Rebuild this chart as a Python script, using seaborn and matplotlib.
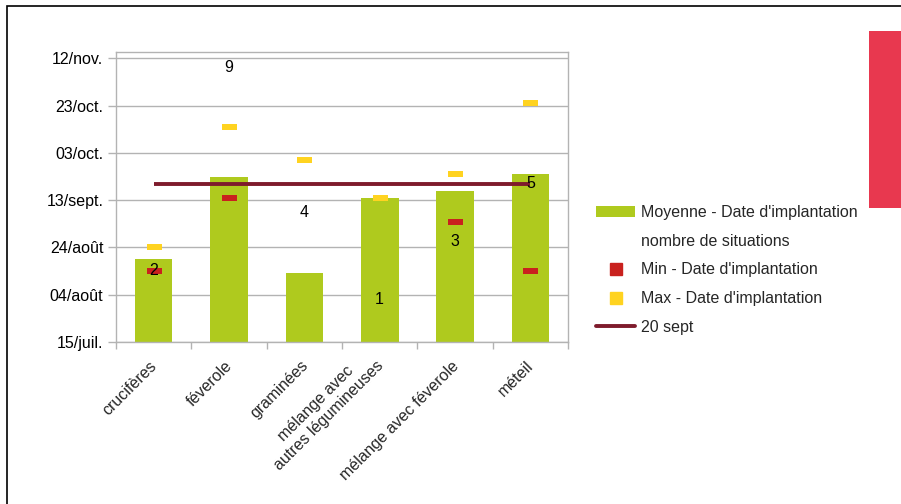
import numpy as np
import pandas as pd
import matplotlib
matplotlib.use("Agg")
import matplotlib.pyplot as plt
import matplotlib.dates as mdates
from matplotlib.ticker import FixedLocator
from matplotlib.patches import Rectangle, Patch
from matplotlib.lines import Line2D
from matplotlib.transforms import ScaledTranslation
import seaborn as sns

# ---------------- data ----------------
categories = ["crucifères", "féverole", "graminées",
              "mélange avec\nautres légumineuses", "mélange avec féverole", "méteil"]
moyenne = ["2023-08-19", "2023-09-23", "2023-08-13", "2023-09-14", "2023-09-17", "2023-09-24"]
minimum = ["2023-08-14", "2023-09-14", None, "2023-09-14", "2023-09-04", "2023-08-14"]
maximum = ["2023-08-24", "2023-10-14", "2023-09-30", "2023-09-14", "2023-09-24", "2023-10-24"]
situations = [2, 9, 4, 1, 3, 5]
reference_date = "2023-09-20"
ytick_dates = ["2023-07-15", "2023-08-04", "2023-08-24", "2023-09-13",
               "2023-10-03", "2023-10-23", "2023-11-12"]
ytick_labels = ["15/juil.", "04/août", "24/août", "13/sept.", "03/oct.", "23/oct.", "12/nov."]
y_range = ["2023-07-15 00:00", "2023-11-14 18:00"]

legend_labels = ["Moyenne - Date d'implantation", "nombre de situations",
                 "Min - Date d'implantation", "Max - Date d'implantation", "20 sept"]


def to_num(values):
    arr = np.array(pd.to_datetime(pd.Series(values), format="mixed"), dtype="datetime64[ns]")
    return mdates.date2num(arr)


moy_num = to_num(moyenne)
min_num = to_num(minimum)
max_num = to_num(maximum)
ref_num = to_num([reference_date])[0]
ytick_num = to_num(ytick_dates)
ylim_num = to_num(y_range)

GREEN = "#AFCA1E"
RED = "#C9211E"
YELLOW = "#FFD320"
DARKRED = "#7E1B2C"
GRID = "#B3B3B3"
FS = 11.5

sns.set_style("white")
plt.rcParams["font.family"] = ["Liberation Sans", "DejaVu Sans"]

W, H = 901, 504
fig = plt.figure(figsize=(W / 100, H / 100), dpi=100)
ax = fig.add_axes([116 / W, (H - 342) / H, (568 - 116) / W, (342 - 52) / H])

sns.barplot(x=categories, y=moy_num, color=GREEN, saturation=1, width=0.5,
            ax=ax, zorder=2, linewidth=0)

marker_rect = [(-1.4, -0.5), (1.4, -0.5), (1.4, 0.5), (-1.4, 0.5), (-1.4, -0.5)]
sns.stripplot(x=categories, y=min_num, jitter=False, marker=marker_rect, size=10.8,
              color=RED, linewidth=0, ax=ax, zorder=4)
sns.stripplot(x=categories, y=max_num, jitter=False, marker=marker_rect, size=10.8,
              color=YELLOW, linewidth=0, ax=ax, zorder=5)

ax.hlines(ref_num, 0, len(categories) - 1, color=DARKRED, lw=2.8, zorder=6)

ax.set_xlim(-0.5, len(categories) - 0.5)
ax.set_ylim(ylim_num[0], ylim_num[1])
ax.yaxis.set_major_locator(FixedLocator(ytick_num))
ax.set_yticklabels(ytick_labels, fontsize=FS, color="black")
ax.tick_params(axis="y", which="major", direction="out", length=5.5, width=1,
               color=GRID, pad=3.5, left=True)
ax.grid(axis="y", color=GRID, lw=1)
ax.grid(axis="x", visible=False)
ax.set_axisbelow(True)

ax.set_xticks(range(len(categories)))
ax.set_xticklabels(categories, rotation=45, ha="right", va="bottom",
                   rotation_mode="anchor", fontsize=FS, multialignment="center")
ax.tick_params(axis="x", which="major", length=0, pad=19.2)
shift = ScaledTranslation(0.064, 0, fig.dpi_scale_trans)
for lab in ax.get_xticklabels():
    lab.set_transform(lab.get_transform() + shift)
ax.xaxis.set_minor_locator(FixedLocator(np.arange(-0.5, len(categories), 1.0)))
ax.tick_params(axis="x", which="minor", direction="out", length=5, width=1,
               color=GRID, bottom=True)
for sp in ax.spines.values():
    sp.set_visible(True)
    sp.set_color(GRID)
    sp.set_linewidth(1)
ax.set_xlabel("")
ax.set_ylabel("")

# count labels on a hidden secondary axis
twin = ax.twinx()
twin.set_ylim(-0.46, 9.54)
twin.axis("off")
for i, n in enumerate(situations):
    twin.text(i, n, str(n), ha="center", va="center", fontsize=FS, color="black", zorder=10)

# legend
handles = [
    Patch(facecolor=GREEN, edgecolor="none"),
    Line2D([], [], linestyle="none", marker=None),
    Line2D([], [], linestyle="none", marker="s", markersize=8, color=RED),
    Line2D([], [], linestyle="none", marker="s", markersize=8, color=YELLOW),
    Line2D([], [], color=DARKRED, lw=2.8),
]
fig.legend(handles, legend_labels, loc="upper left",
           bbox_to_anchor=(596 / W, (H - 205) / H), frameon=False, fontsize=FS,
           borderpad=0, borderaxespad=0, handlelength=2.45, handleheight=0.65,
           handletextpad=0.35, labelspacing=0.86)

# outer frame and red side block
fig.add_artist(Rectangle((7 / W, -0.2), 1.5, (H - 6) / H + 0.2, transform=fig.transFigure,
                         fill=False, ec="black", lw=1.2))
fig.add_artist(Rectangle((869 / W, (H - 208) / H), 0.2, (208 - 31) / H,
                         transform=fig.transFigure, fc="#E8384F", ec="none"))

fig.savefig("out.png", dpi=100)
